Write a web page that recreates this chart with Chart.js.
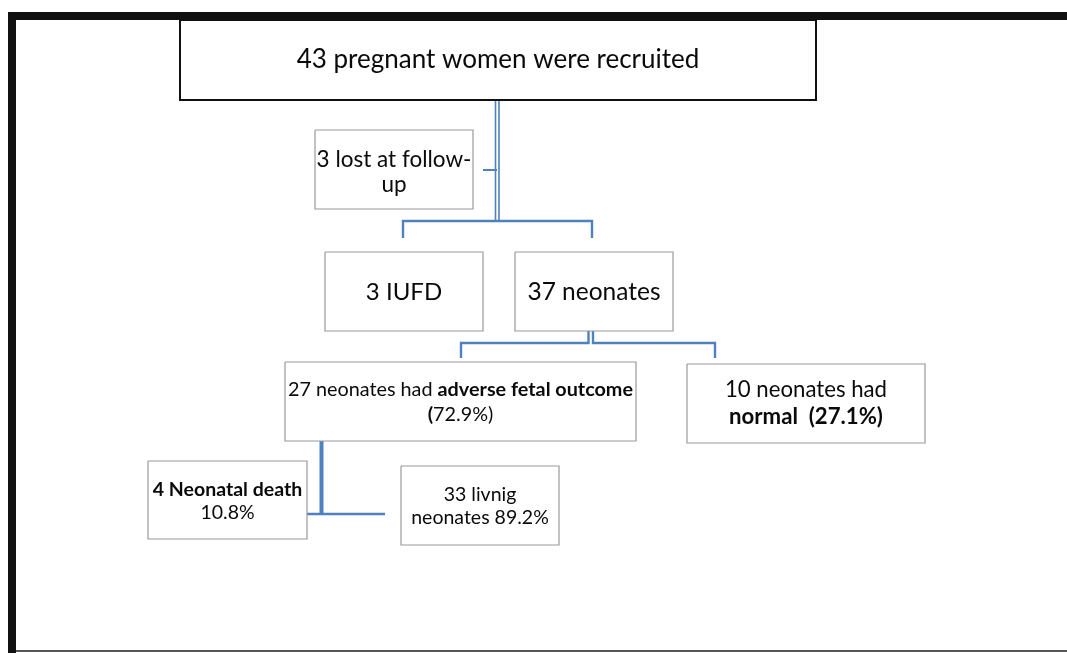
<!DOCTYPE html>
<html>
<head>
<meta charset="utf-8">
<style>
  html, body { margin: 0; padding: 0; background: #ffffff; }
  #wrap { width: 1067px; height: 653px; }
</style>
<script src="https://cdn.jsdelivr.net/npm/chart.js@4.4.1/dist/chart.umd.min.js"></script>
</head>
<body>
<div id="wrap"><canvas id="c" width="1067" height="653"></canvas></div>
<script>
// ---------- DATA ----------
const stageKeys = ['recruited', 'lost', 'iufd', 'neonates', 'adverse', 'normal', 'death', 'living'];
const stageCounts = [43, 3, 3, 37, 27, 10, 4, 33];
const stagePercents = [null, null, null, null, 72.9, 27.1, 10.8, 89.2];
// text lines per stage: each line is a list of [text, bold]
const stageText = [
  [[['43 pregnant women were recruited', false]]],
  [[['3 lost at follow-', false]], [['up', false]]],
  [[['3 IUFD', false]]],
  [[['37 neonates', false]]],
  [[['27 neonates had ', false], ['adverse fetal outcome', true]], [['(', true], ['72.9%)', false]]],
  [[['10 neonates had', false]], [['normal  (27.1%)', true]]],
  [[['4 Neonatal death', true]], [['10.8%', false]]],
  [[['33 livnig', false]], [['neonates 89.2%', false]]]
];

// ---------- LAYOUT (diagram units = scale units) ----------
const boxes = {
  recruited: { x0: 180, x1: 816, y0: 20, y1: 100, border: '#111111', bw: 2, font: 26, lh: 28, cy: 60 },
  lost:      { x0: 315, x1: 473, y0: 130, y1: 209, border: '#9a9a9a', bw: 1.2, font: 22.5, lh: 25, cy: 172 },
  iufd:      { x0: 325, x1: 483, y0: 252, y1: 331, border: '#9a9a9a', bw: 1.2, font: 24, lh: 28, cy: 292 },
  neonates:  { x0: 515, x1: 673, y0: 252, y1: 331, border: '#9a9a9a', bw: 1.2, font: 24.5, lh: 28, cy: 292 },
  adverse:   { x0: 285, x1: 636, y0: 362, y1: 441, border: '#9a9a9a', bw: 1.2, font: 19.8, lh: 25, cy: 402.5 },
  normal:    { x0: 687, x1: 925, y0: 364, y1: 443, border: '#9a9a9a', bw: 1.2, font: 22.2, lh: 27, cy: 403.5 },
  death:     { x0: 148, x1: 307, y0: 461, y1: 539, border: '#9a9a9a', bw: 1.2, font: 19.5, lh: 23, cy: 501.5 },
  living:    { x0: 401, x1: 559, y0: 466, y1: 545, border: '#9a9a9a', bw: 1.2, font: 19.5, lh: 23, cy: 506.5 }
};
const BLUE = '#4f81bd';
const connectors = [
  { pts: [[495.5, 100], [495.5, 221]], w: 1.6 },
  { pts: [[499, 100], [499, 221]], w: 1.6 },
  { pts: [[483, 170], [497, 170]], w: 2 },
  { pts: [[403, 238], [403, 221], [592, 221], [592, 238]], w: 2.4 },
  { pts: [[588.5, 331], [588.5, 343], [461, 343], [461, 358]], w: 2.4 },
  { pts: [[593, 331], [593, 343], [715, 343], [715, 358]], w: 2.4 },
  { pts: [[321.5, 441], [321.5, 515]], w: 4 },
  { pts: [[307, 514], [385, 514]], w: 2.4 }
];
const frame = [
  { pts: [[12, 653], [12, 16], [1067, 16]], w: 8, c: '#111111' },
  { pts: [[16, 651], [1067, 651]], w: 2, c: '#555555' }
];

// ---------- DATASETS ----------
const datasets = [];
frame.forEach(f => datasets.push({
  data: f.pts.map(p => ({ x: p[0], y: p[1] })), borderColor: f.c, borderWidth: f.w,
  showLine: true, pointRadius: 0, fill: false, clip: false, tension: 0, borderJoinStyle: 'miter'
}));
stageKeys.forEach((k, i) => {
  const b = boxes[k];
  datasets.push({
    label: k + ' (' + stageCounts[i] + ')',
    data: [{ x: b.x0, y: b.y0 }, { x: b.x1, y: b.y0 }, { x: b.x1, y: b.y1 }, { x: b.x0, y: b.y1 }, { x: b.x0, y: b.y0 }],
    borderColor: b.border, borderWidth: b.bw, backgroundColor: '#ffffff',
    showLine: true, pointRadius: 0, fill: false, clip: false, tension: 0, borderJoinStyle: 'miter'
  });
});
connectors.forEach(c => datasets.push({
  data: c.pts.map(p => ({ x: p[0], y: p[1] })), borderColor: BLUE, borderWidth: c.w,
  showLine: true, pointRadius: 0, fill: false, clip: false, tension: 0, borderJoinStyle: 'miter'
}));

// ---------- TEXT PLUGIN ----------
const FONT = 'Lato, "Open Sans", sans-serif';
const textPlugin = {
  id: 'boxText',
  afterDatasetsDraw(chart) {
    const ctx = chart.ctx, xs = chart.scales.x, ys = chart.scales.y;
    ctx.save();
    ctx.fillStyle = '#0a0a0a';
    ctx.textBaseline = 'middle';
    ctx.textAlign = 'left';
    stageKeys.forEach((k, i) => {
      const b = boxes[k];
      const lines = stageText[i];
      const cx = xs.getPixelForValue((b.x0 + b.x1) / 2);
      const n = lines.length;
      lines.forEach((segs, li) => {
        const yv = b.cy + (li - (n - 1) / 2) * b.lh;
        const py = ys.getPixelForValue(yv);
        let total = 0;
        segs.forEach(s => { ctx.font = (s[1] ? 'bold ' : '') + b.font + 'px ' + FONT; total += ctx.measureText(s[0]).width; });
        let px = cx - total / 2;
        segs.forEach(s => {
          ctx.font = (s[1] ? 'bold ' : '') + b.font + 'px ' + FONT;
          ctx.fillText(s[0], px, py);
          px += ctx.measureText(s[0]).width;
        });
      });
    });
    ctx.restore();
  }
};

new Chart(document.getElementById('c'), {
  type: 'scatter',
  data: { datasets },
  options: {
    responsive: false,
    animation: false,
    events: [],
    layout: { padding: 0 },
    plugins: { legend: { display: false }, tooltip: { enabled: false }, title: { display: false } },
    scales: {
      x: { type: 'linear', min: 0, max: 1067, display: false },
      y: { type: 'linear', min: 0, max: 653, reverse: true, display: false }
    }
  },
  plugins: [textPlugin]
});
</script>
</body>
</html>
